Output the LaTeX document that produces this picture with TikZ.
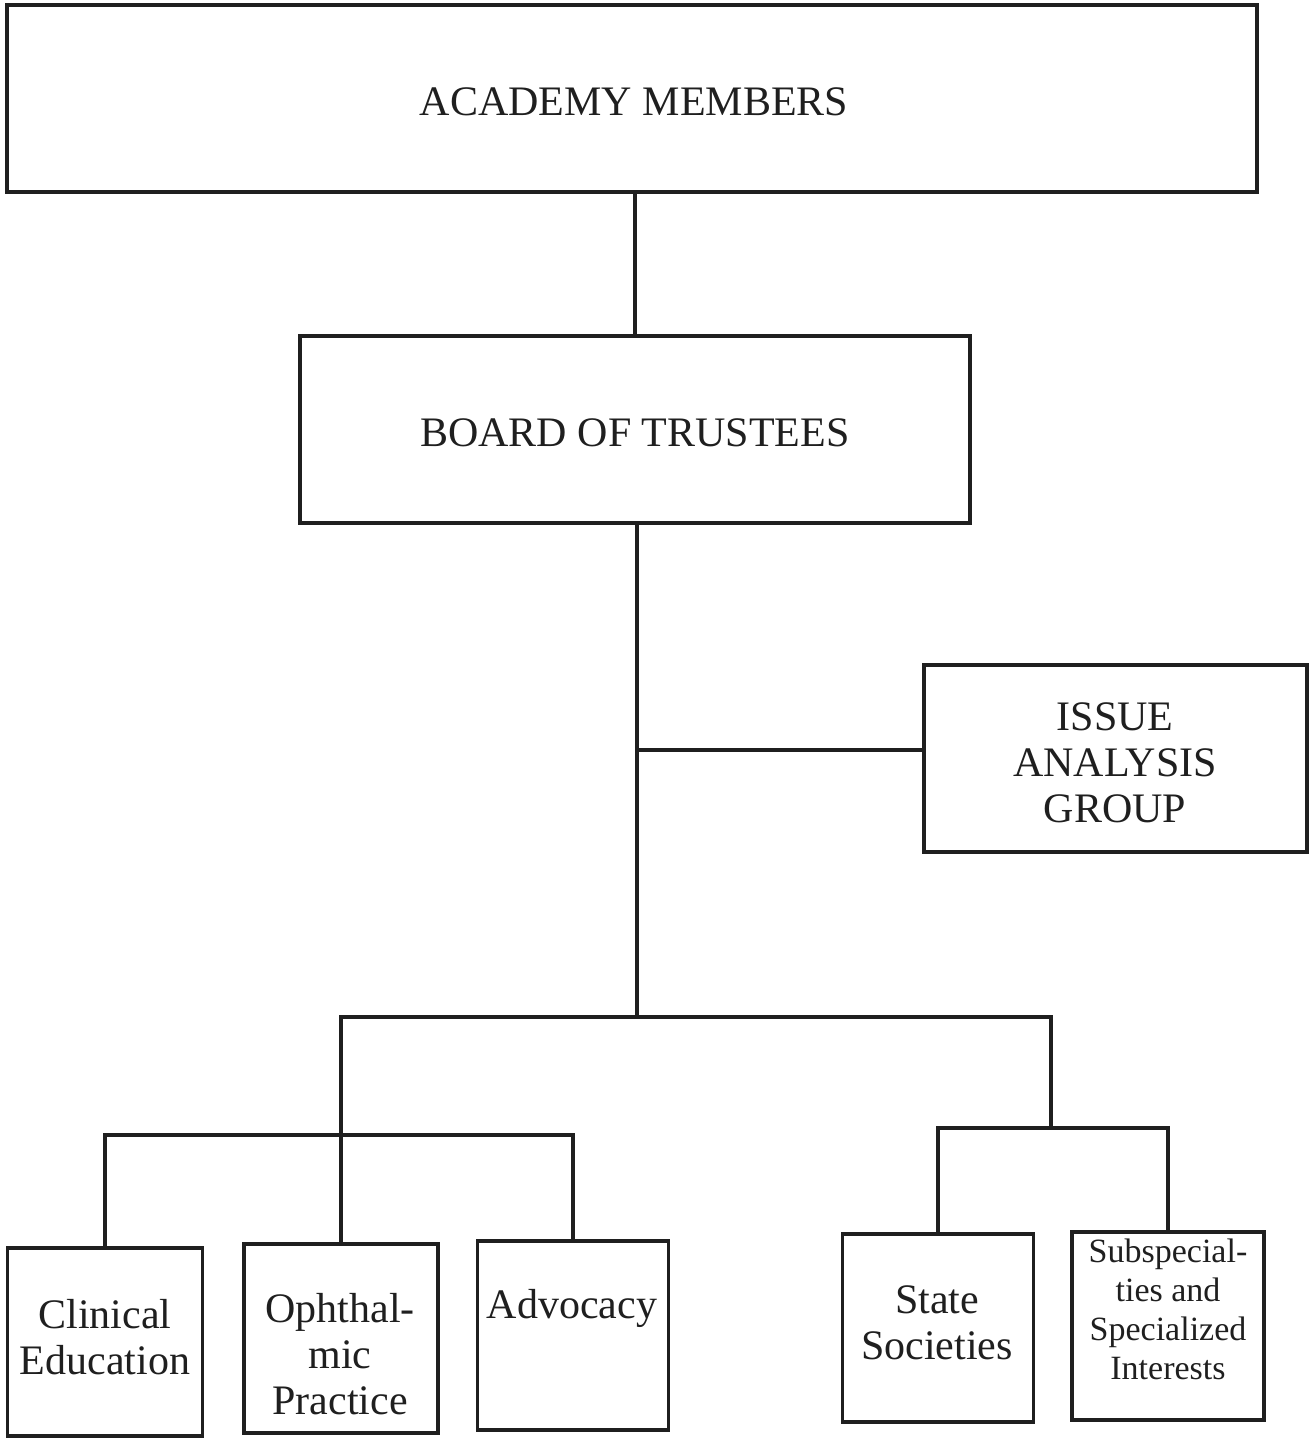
\documentclass[tikz,border=0pt]{standalone}
\usepackage{fontspec}
\setmainfont{Liberation Serif}
\begin{document}
\begin{tikzpicture}[x=1pt,y=-1pt,
  line width=3.2pt,
  box/.style={draw=black!88, line width=3.2pt, rectangle, inner sep=0pt, minimum width=#1},
  wire/.style={draw=black!88, line width=3.2pt, line join=miter},
  big/.style={inner sep=0pt, align=center, font=\fontsize{42}{46}\selectfont, text=black!88},
  small/.style={inner sep=0pt, align=center, font=\fontsize{34}{39}\selectfont, text=black!88}]
\useasboundingbox (0,0) rectangle (1313,1438);
% boxes
\node[box=1250pt, minimum height=187pt] (acad) at (632,98.5) {};
\node[box=670pt, minimum height=187pt] (board) at (635,429.5) {};
\node[box=383pt, minimum height=187pt] (issue) at (1115.5,758.5) {};
\node[box=195pt, minimum height=188pt] (clin) at (105,1342) {};
\node[box=194pt, minimum height=189pt] (oph) at (341,1338.5) {};
\node[box=191pt, minimum height=189pt] (adv) at (573,1335.5) {};
\node[box=191pt, minimum height=188pt] (state) at (938,1328) {};
\node[box=192pt, minimum height=188pt] (sub) at (1168,1326) {};
% texts
\node[big] (tacad) at (634,102) {ACADEMY MEMBERS};
\node[big] (tboard) at (635,433) {BOARD OF TRUSTEES};
\node[big] (tissue) at (1115,763) {ISSUE\\ANALYSIS\\GROUP};
\node[big] (tclin) at (105,1337) {Clinical\\Education};
\node[big] (toph) at (340,1354) {Ophthal-\\mic\\Practice};
\node[big] (tadv) at (572,1308) {Advocacy};
\node[big] (tstate) at (937,1323) {State\\Societies};
\node[small] (tsub) at (1168,1309) {Subspecial-\\ties and\\Specialized\\Interests};
% junction coordinates
\coordinate (jI) at (637,750);
\coordinate (jB) at (637,1017);
\coordinate (jL) at (341,1017);
\coordinate (jR) at (1051,1017);
\coordinate (jRR) at (1051,1128);
\coordinate (cL) at (105,1135);
\coordinate (cA) at (573,1135);
\coordinate (cS) at (938,1128);
\coordinate (cU) at (1168,1128);
% connectors
\draw[wire] (acad.south -| 635,0) -- (board.north -| 635,0);
\draw[wire] (board.south -| jB) -- (jB);
\draw[wire] (jI) -- (issue.west |- jI);
\draw[wire] (oph.north) -- (jL) -- (jR) -- (jRR);
\draw[wire] (clin.north) -- (cL) -- (cA) -- (adv.north);
\draw[wire] (state.north) -- (cS) -- (cU) -- (sub.north);
\end{tikzpicture}
\end{document}
